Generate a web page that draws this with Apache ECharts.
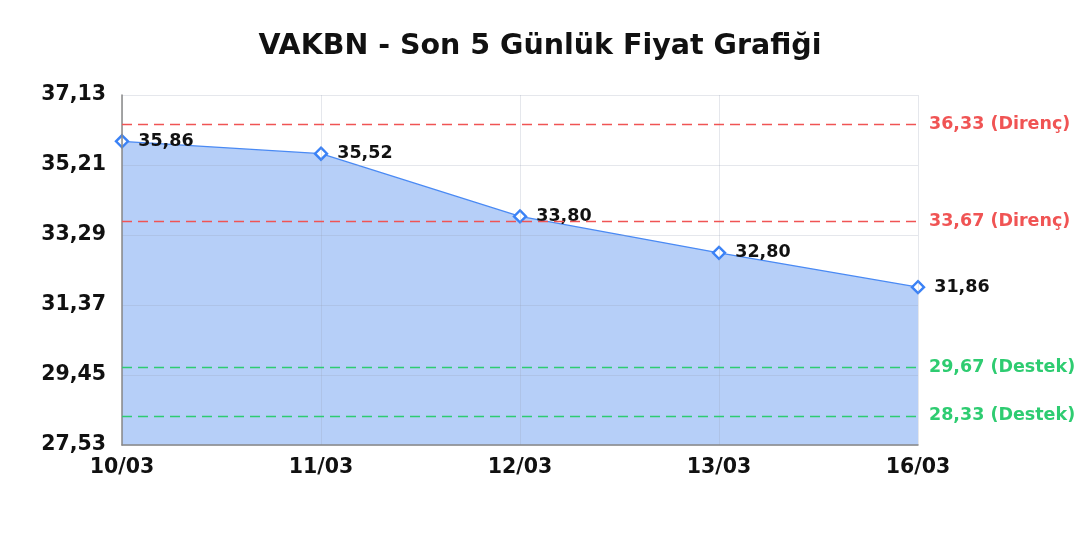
<!DOCTYPE html>
<html><head><meta charset="utf-8">
<script src="https://cdn.jsdelivr.net/npm/echarts@6/dist/echarts.min.js"></script>
<style>html,body{margin:0;padding:0;background:#fff}#c{width:1080px;height:540px}</style>
</head><body><div id="c"></div>
<script>
var categories = ['10/03','11/03','12/03','13/03','16/03'];
var prices = [35.86, 35.52, 33.80, 32.80, 31.86];
var resistance = [36.33, 33.67];
var support = [29.67, 28.33];
var yMin = 27.53, yMax = 37.13, yStep = 1.92;
var titleText = 'VAKBN - Son 5 Günlük Fiyat Grafiği';

function fmt(v){ return v.toFixed(2).replace('.', ','); }
var FONT = "'DejaVu Sans', sans-serif";
var markData = [];
resistance.forEach(function(v){
  markData.push({yAxis: v, lineStyle:{color:'#f05454', type:[10,6], width:1.3},
    label:{formatter: fmt(v)+' (Direnç)', color:'#f05454'}});
});
support.forEach(function(v){
  markData.push({yAxis: v, lineStyle:{color:'#2ecc71', type:[10,6], width:1.3},
    label:{formatter: fmt(v)+' (Destek)', color:'#2ecc71'}});
});

var chart = echarts.init(document.getElementById('c'));
chart.setOption({
  animation:false,
  title:{text:titleText, left:'center', top:27,
    textStyle:{fontFamily:FONT, fontSize:28.5, fontWeight:'bold', color:'#111'}},
  grid:{left:122, right:162, top:95, bottom:95},
  xAxis:{type:'category', data:categories, boundaryGap:false, z:5,
    axisLine:{lineStyle:{color:'#888', width:1.5}},
    axisTick:{show:false},
    splitLine:{show:true, lineStyle:{color:'rgba(150,160,180,0.25)'}},
    axisLabel:{fontFamily:FONT, fontSize:20.5, fontWeight:'bold', color:'#111', margin:12}},
  yAxis:{type:'value', min:yMin, max:yMax, interval:yStep, z:5,
    axisLine:{show:true, lineStyle:{color:'#888', width:1.5}},
    axisTick:{show:false},
    splitLine:{lineStyle:{color:'rgba(150,160,180,0.25)'}},
    axisLabel:{fontFamily:FONT, fontSize:20.5, fontWeight:'bold', color:'#111', margin:16,
      formatter:function(v){return fmt(v);}}},
  series:[{
    type:'line', data:prices,
    symbol:'diamond', symbolSize:12,
    itemStyle:{color:'#fff', borderColor:'#3b82f6', borderWidth:2.4},
    lineStyle:{color:'#4a8af4', width:1.3},
    areaStyle:{color:'#b6cff8', opacity:1},
    label:{show:true, position:'right', distance:9, fontFamily:FONT, fontSize:17.5, fontWeight:'bold', color:'#111',
      formatter:function(p){return fmt(p.value);}},
    markLine:{symbol:'none', silent:true, z:6, data:markData,
      label:{position:'end', fontFamily:FONT, fontSize:17.5, fontWeight:'bold', distance:11}}
  }]
});
</script></body></html>
